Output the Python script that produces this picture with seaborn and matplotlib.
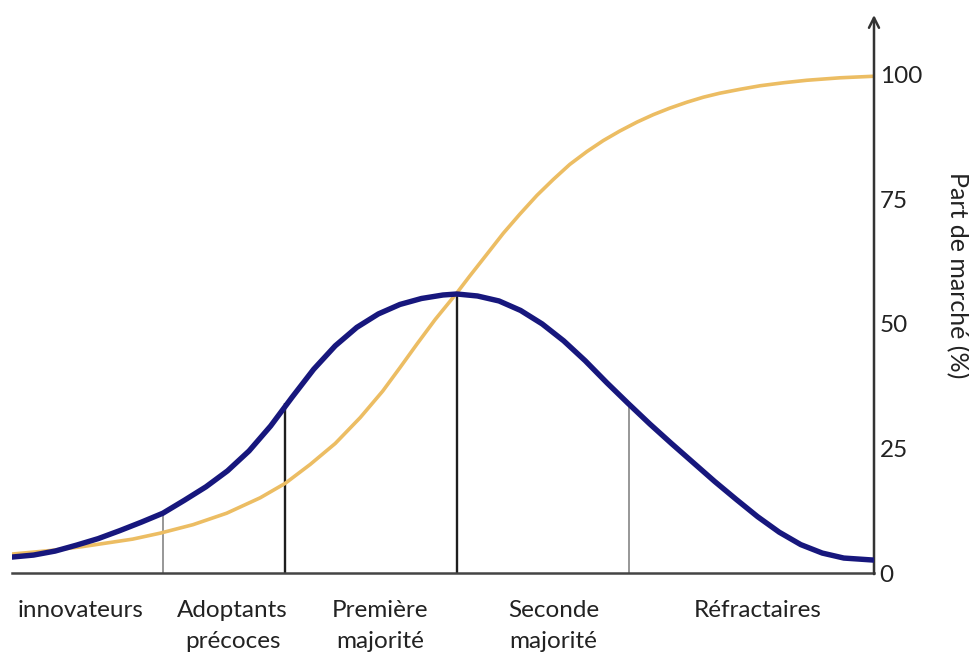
import matplotlib
matplotlib.use('Agg')
import matplotlib.pyplot as plt
import seaborn as sns
import pandas as pd

# courbe en cloche (adoption par période)
temps_cloche = [0.0, 2.5, 5.0, 7.5, 10.0, 12.5, 15.0, 17.5, 20.0, 22.5, 25.0, 27.5, 30.0, 32.5,
                35.0, 37.5, 40.0, 42.5, 45.0, 47.5, 50.0, 51.6, 54.0, 56.5, 59.0, 61.5, 64.0,
                66.5, 69.0, 71.5, 74.0, 76.5, 79.0, 81.5, 84.0, 86.5, 89.0, 91.5, 94.0, 96.5,
                99.9]
part_cloche = [3.2, 3.6, 4.4, 5.6, 6.9, 8.5, 10.2, 12.0, 14.6, 17.3, 20.5, 24.5, 29.5, 35.3,
               40.9, 45.6, 49.3, 52.0, 53.9, 55.1, 55.8, 56.0, 55.6, 54.6, 52.7, 50.0, 46.6,
               42.6, 38.2, 34.0, 29.9, 26.0, 22.2, 18.4, 14.8, 11.3, 8.2, 5.7, 4.0, 3.0, 2.6]

# courbe en S (part de marché cumulée)
temps_cumul = [0.0, 4.4, 8.2, 14.0, 17.2, 21.0, 24.9, 28.8, 31.7, 34.6, 37.5, 40.4, 43.0, 45.0,
               47.0, 49.1, 51.6, 53.1, 55.1, 57.0, 58.9, 60.9, 62.8, 64.7, 66.7, 68.6, 70.5,
               72.5, 74.4, 76.3, 78.3, 80.2, 82.1, 84.5, 86.8, 89.5, 92.2, 96.1, 99.9]
part_cumul = [3.8, 4.5, 5.3, 6.8, 8.0, 9.7, 12.0, 15.1, 18.0, 21.8, 26.0, 31.2, 36.5, 41.2,
              46.0, 50.9, 56.2, 59.6, 64.0, 68.2, 72.0, 75.8, 79.0, 82.0, 84.6, 86.8, 88.7,
              90.5, 92.0, 93.3, 94.5, 95.5, 96.3, 97.1, 97.8, 98.4, 98.9, 99.4, 99.7]

categories = ['innovateurs', 'Adoptants\nprécoces', 'Première\nmajorité', 'Seconde\nmajorité', 'Réfractaires']
pos_categories = [7.9, 25.6, 42.7, 62.8, 86.5]
limites = [17.5, 31.7, 51.6, 71.6]
hauteurs_limites = [12.0, 34.1, 56.0, 34.0]
graduations = [0, 25, 50, 75, 100]

df_cloche = pd.DataFrame({'temps': temps_cloche, 'part': part_cloche})
df_cumul = pd.DataFrame({'temps': temps_cumul, 'part': part_cumul})

sns.set_style('white')
plt.rcParams['font.family'] = ['Lato', 'DejaVu Sans']

fig = plt.figure(figsize=(9.69, 6.52), dpi=100)
ax = fig.add_axes([12 / 969, 79 / 652, 862 / 969, 558 / 652])

ax.vlines(limites, 0, hauteurs_limites, colors=['#7a7a7a', '#1e1e1e', '#1e1e1e', '#7a7a7a'],
          linewidths=[1.1, 1.7, 1.7, 1.1], zorder=2)

sns.lineplot(data=df_cumul, x='temps', y='part', ax=ax, color='#ecbd63', linewidth=2.6,
             zorder=3, sort=False)
sns.lineplot(data=df_cloche, x='temps', y='part', ax=ax, color='#17177d', linewidth=3.9,
             zorder=4, sort=False)
for l in ax.lines:
    l.set_solid_joinstyle('round')
    l.set_solid_capstyle('round')

ax.set_xlim(0, 100)
ax.set_ylim(0, 112)
ax.set_xticks([])
ax.set_xlabel('')
ax.set_ylabel('')
ax.yaxis.tick_right()
ax.set_yticks(graduations)
ax.tick_params(axis='y', length=0, pad=4, labelsize=17.5, colors='#222222')

for s in ['top', 'left', 'right']:
    ax.spines[s].set_visible(False)
ax.spines['bottom'].set_color('#444444')
ax.spines['bottom'].set_linewidth(1.8)

ax.annotate('', xy=(1, 1), xytext=(1, -0.002), xycoords='axes fraction',
            arrowprops=dict(arrowstyle='->', lw=1.8, color='#333333', mutation_scale=18,
                            shrinkA=0, shrinkB=0))

for x, lab in zip(pos_categories, categories):
    ax.text(x, -5.4, lab, ha='center', va='top', fontsize=17.5, linespacing=1.6,
            color='#222222', clip_on=False)

fig.text(957 / 969, 1 - 275 / 652, 'Part de marché (%)', rotation=270, ha='center',
         va='center', fontsize=18, color='#222222')

fig.savefig('out.png', dpi=100)
